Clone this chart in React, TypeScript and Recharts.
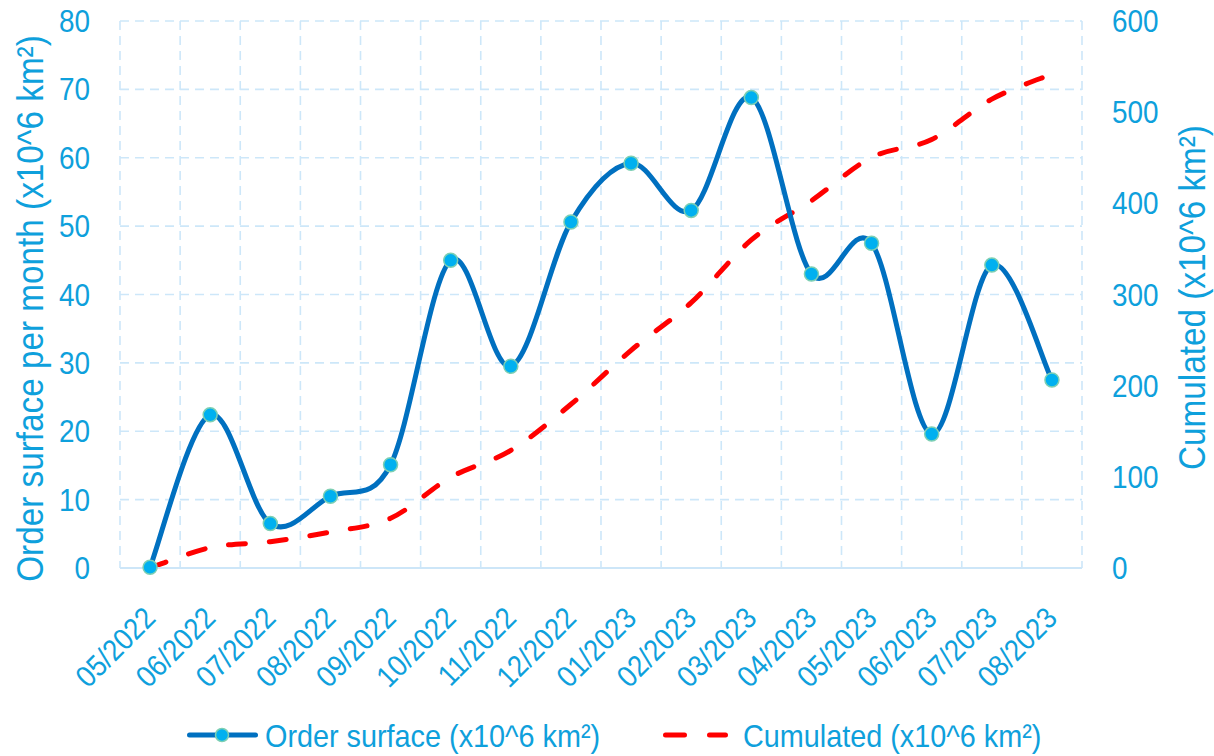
import React from 'react';
import { ComposedChart, Line, XAxis, YAxis, CartesianGrid, Legend } from 'recharts';

const months = ['05/2022', '06/2022', '07/2022', '08/2022', '09/2022', '10/2022', '11/2022', '12/2022', '01/2023', '02/2023', '03/2023', '04/2023', '05/2023', '06/2023', '07/2023', '08/2023'];
const orderSurface = [0.1, 22.4, 6.5, 10.5, 15.1, 45.0, 29.5, 50.6, 59.2, 52.3, 68.8, 43.0, 47.5, 19.6, 44.3, 27.5];
const cumulated = [0, 22.4, 28.9, 39.4, 54.5, 99.5, 129.0, 179.6, 238.8, 291.1, 359.9, 402.9, 450.4, 470.0, 514.3, 541.8];
const leftTicks = [0, 10, 20, 30, 40, 50, 60, 70, 80];
const rightTicks = [0, 100, 200, 300, 400, 500, 600];
const orderName = 'Order surface (x10^6 km²)';
const cumName = 'Cumulated (x10^6 km²)';
const leftTitle = 'Order surface per month (x10^6 km²)';
const rightTitle = 'Cumulated (x10^6 km²)';

const data = months.map((m, i) => ({ month: m, order: orderSurface[i], cum: cumulated[i] }));

const FONT = "'Liberation Sans', Arial, sans-serif";
const TEXT = '#0ea0dc';
const BLUE = '#0070C0';
const MARKER = '#00B0F0';
const MARKER_RING = '#7dcfb3';
const RED = '#FF0000';
const GRID = '#cde7f9';
const SX = 0.9;

const W = 1214;
const H = 756;

// Excel-like smoothed line (Catmull-Rom as cubic Bezier)
const excelCurve: any = (context: any) => {
  let pts: [number, number][] = [];
  return {
    areaStart() {},
    areaEnd() {},
    lineStart() {
      pts = [];
    },
    point(x: number, y: number) {
      pts.push([+x, +y]);
    },
    lineEnd() {
      if (!pts.length) return;
      context.moveTo(pts[0][0], pts[0][1]);
      for (let i = 0; i < pts.length - 1; i++) {
        const p0 = pts[i - 1] || pts[i];
        const p1 = pts[i];
        const p2 = pts[i + 1];
        const p3 = pts[i + 2] || p2;
        context.bezierCurveTo(
          p1[0] + (p2[0] - p0[0]) / 6,
          p1[1] + (p2[1] - p0[1]) / 6,
          p2[0] - (p3[0] - p1[0]) / 6,
          p2[1] - (p3[1] - p1[1]) / 6,
          p2[0],
          p2[1]
        );
      }
    },
  };
};

const LeftTick = (props: any) => {
  const { x, y, payload } = props;
  return (
    <text transform={`translate(${x},${y + 11}) scale(${SX},1)`} textAnchor="end" fontSize={31} fill={TEXT} fontFamily={FONT}>
      {payload.value}
    </text>
  );
};

const RightTick = (props: any) => {
  const { x, y, payload } = props;
  return (
    <text transform={`translate(${x},${y + 11}) scale(${SX},1)`} textAnchor="start" fontSize={31} fill={TEXT} fontFamily={FONT}>
      {payload.value}
    </text>
  );
};

const BottomTick = (props: any) => {
  const { x, y, payload } = props;
  return (
    <text transform={`translate(${x + 7},${y + 52}) rotate(-45) scale(${SX},1)`} textAnchor="end" fontSize={30} fill={TEXT} fontFamily={FONT}>
      {payload.value}
    </text>
  );
};

const leftLabel = (props: any) => {
  const vb = props.viewBox || {};
  const x = vb.x ?? 0;
  const y = vb.y ?? 0;
  const h = vb.height ?? 0;
  return (
    <text transform={`translate(${x + 43},${y + h / 2 + 14}) rotate(-90) scale(${SX},1)`} textAnchor="middle" fontSize={37} fill={TEXT} fontFamily={FONT}>
      {leftTitle}
    </text>
  );
};

const rightLabel = (props: any) => {
  const vb = props.viewBox || {};
  const x = vb.x ?? 0;
  const y = vb.y ?? 0;
  const h = vb.height ?? 0;
  return (
    <text transform={`translate(${x + 123},${y + h / 2 + 3}) rotate(-90) scale(${SX},1)`} textAnchor="middle" fontSize={37} fill={TEXT} fontFamily={FONT}>
      {rightTitle}
    </text>
  );
};

const renderLegend = () => (
  <svg width={W} height={40} style={{ display: 'block' }}>
    <line x1={189.5} y1={20} x2={255.5} y2={20} stroke={BLUE} strokeWidth={5} strokeLinecap="round" />
    <circle cx={222} cy={20} r={6.5} fill={MARKER} stroke={MARKER_RING} strokeWidth={1.5} />
    <text transform={`translate(265,31.5) scale(${SX},1)`} fontSize={32} fill={TEXT} fontFamily={FONT}>
      {orderName}
    </text>
    <line x1={665.5} y1={20} x2={725.5} y2={20} stroke={RED} strokeWidth={5} strokeDasharray="19 25" strokeLinecap="round" />
    <text transform={`translate(743,31.5) scale(${SX},1)`} fontSize={32} fill={TEXT} fontFamily={FONT}>
      {cumName}
    </text>
  </svg>
);

export default function App() {
  return (
    <div style={{ position: 'absolute', left: 0, top: 0, width: W, height: H }}>
      <ComposedChart width={W} height={H} data={data} margin={{ top: 21, right: 0, bottom: 1, left: 0 }}>
        <CartesianGrid
          yAxisId="left"
          stroke={GRID}
          strokeWidth={1.6}
          strokeDasharray="9 6"
          verticalCoordinatesGenerator={(p: any) => {
            const o = p.offset;
            return months.map((_, i) => o.left + (i * o.width) / months.length).concat([o.left + o.width]);
          }}
        />
        <XAxis
          dataKey="month"
          scale="band"
          height={147}
          interval={0}
          tickLine={false}
          tickSize={0}
          tickMargin={0}
          axisLine={{ stroke: '#cde6f8', strokeWidth: 2 }}
          tick={<BottomTick />}
        />
        <YAxis
          yAxisId="left"
          orientation="left"
          width={120}
          domain={[0, 80]}
          ticks={leftTicks}
          interval={0}
          axisLine={false}
          tickLine={false}
          tickSize={0}
          tickMargin={30}
          tick={<LeftTick />}
          label={{ content: leftLabel }}
        />
        <YAxis
          yAxisId="right"
          orientation="right"
          width={132}
          domain={[0, 600]}
          ticks={rightTicks}
          interval={0}
          axisLine={false}
          tickLine={false}
          tickSize={0}
          tickMargin={30}
          tick={<RightTick />}
          label={{ content: rightLabel }}
        />
        <Legend verticalAlign="bottom" height={40} content={renderLegend} wrapperStyle={{ left: 0, width: W }} />
        <Line
          yAxisId="right"
          dataKey="cum"
          name={cumName}
          type={excelCurve}
          stroke={RED}
          strokeWidth={5}
          strokeDasharray="17 24"
          strokeLinecap="round"
          dot={false}
          activeDot={false}
          isAnimationActive={false}
        />
        <Line
          yAxisId="left"
          dataKey="order"
          name={orderName}
          type={excelCurve}
          stroke={BLUE}
          strokeWidth={5}
          dot={{ r: 7, fill: MARKER, stroke: MARKER_RING, strokeWidth: 1.5 }}
          activeDot={false}
          isAnimationActive={false}
        />
      </ComposedChart>
    </div>
  );
}
